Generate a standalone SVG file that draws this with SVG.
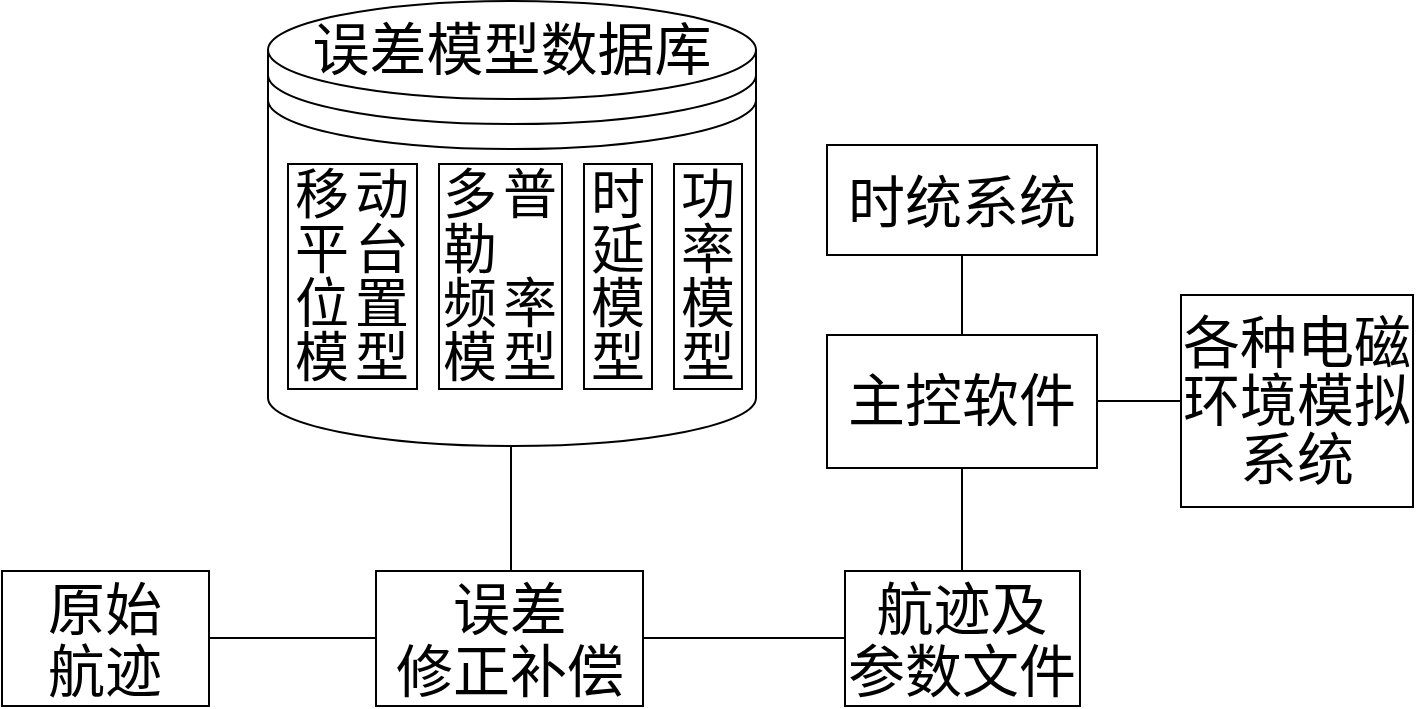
<svg xmlns="http://www.w3.org/2000/svg" width="1417" height="709" viewBox="0 0 1417 709">
<style>
.s{fill:none;stroke:#000;stroke-width:2}
.b{fill:#fff;stroke:#000;stroke-width:2}
text{font-family:"Noto Sans CJK SC","Noto Sans",sans-serif;fill:#000;text-anchor:middle}
.t{font-size:57px}
.m{font-size:54px}
</style>
<rect width="1417" height="709" fill="#fff"/>
<g id="connectors" class="s">
<line x1="511" y1="446" x2="511" y2="571"/>
<line x1="962" y1="255" x2="962" y2="335"/>
<line x1="962" y1="468" x2="962" y2="571"/>
<line x1="1097" y1="401" x2="1181" y2="401"/>
<line x1="209" y1="638" x2="376" y2="638"/>
<line x1="643" y1="638" x2="845" y2="638"/>
</g>
<g id="database">
<path class="b" d="M268 50 L268 398 A244 48 0 0 0 756 398 L756 50 Z"/>
<ellipse class="b" cx="512" cy="50" rx="244" ry="49"/>
<path class="s" d="M268 75 A244 49 0 0 0 756 75"/>
<path class="s" d="M268 100 A244 49 0 0 0 756 100"/>
<text class="t" x="512" y="70">误差模型数据库</text>
</g>
<g id="model-platform">
<rect class="b" x="288" y="164" width="129" height="225"/>
<text class="m"><tspan x="322" y="214">移</tspan><tspan x="382" y="214">动</tspan><tspan x="322" y="269">平</tspan><tspan x="382" y="269">台</tspan><tspan x="322" y="323">位</tspan><tspan x="382" y="323">置</tspan><tspan x="322" y="377">模</tspan><tspan x="382" y="377">型</tspan></text>
</g>
<g id="model-doppler">
<rect class="b" x="439" y="164" width="123" height="225"/>
<text class="m"><tspan x="470" y="214">多</tspan><tspan x="530" y="214">普</tspan><tspan x="470" y="269">勒</tspan><tspan x="470" y="323">频</tspan><tspan x="530" y="323">率</tspan><tspan x="470" y="377">模</tspan><tspan x="530" y="377">型</tspan></text>
</g>
<g id="model-delay">
<rect class="b" x="584" y="164" width="68" height="225"/>
<text class="m"><tspan x="618" y="214">时</tspan><tspan x="618" y="269">延</tspan><tspan x="618" y="323">模</tspan><tspan x="618" y="377">型</tspan></text>
</g>
<g id="model-power">
<rect class="b" x="674" y="164" width="68" height="225"/>
<text class="m"><tspan x="708" y="214">功</tspan><tspan x="708" y="269">率</tspan><tspan x="708" y="323">模</tspan><tspan x="708" y="377">型</tspan></text>
</g>
<g id="time-system">
<rect class="b" x="827" y="145" width="270" height="110"/>
<text class="t" x="962" y="223">时统系统</text>
</g>
<g id="main-control">
<rect class="b" x="827" y="335" width="270" height="133"/>
<text class="t" x="962" y="421">主控软件</text>
</g>
<g id="em-env">
<rect class="b" x="1181" y="295" width="232" height="212"/>
<text class="t"><tspan x="1297" y="363">各种电磁</tspan><tspan x="1297" y="421">环境模拟</tspan><tspan x="1297" y="480">系统</tspan></text>
</g>
<g id="raw-track">
<rect class="b" x="2" y="571" width="207" height="135"/>
<text class="t"><tspan x="105" y="630">原始</tspan><tspan x="105" y="692">航迹</tspan></text>
</g>
<g id="error-correction">
<rect class="b" x="376" y="571" width="267" height="135"/>
<text class="t"><tspan x="510" y="630">误差</tspan><tspan x="510" y="692">修正补偿</tspan></text>
</g>
<g id="track-file">
<rect class="b" x="845" y="571" width="235" height="135"/>
<text class="t"><tspan x="962" y="630">航迹及</tspan><tspan x="962" y="692">参数文件</tspan></text>
</g>
</svg>
